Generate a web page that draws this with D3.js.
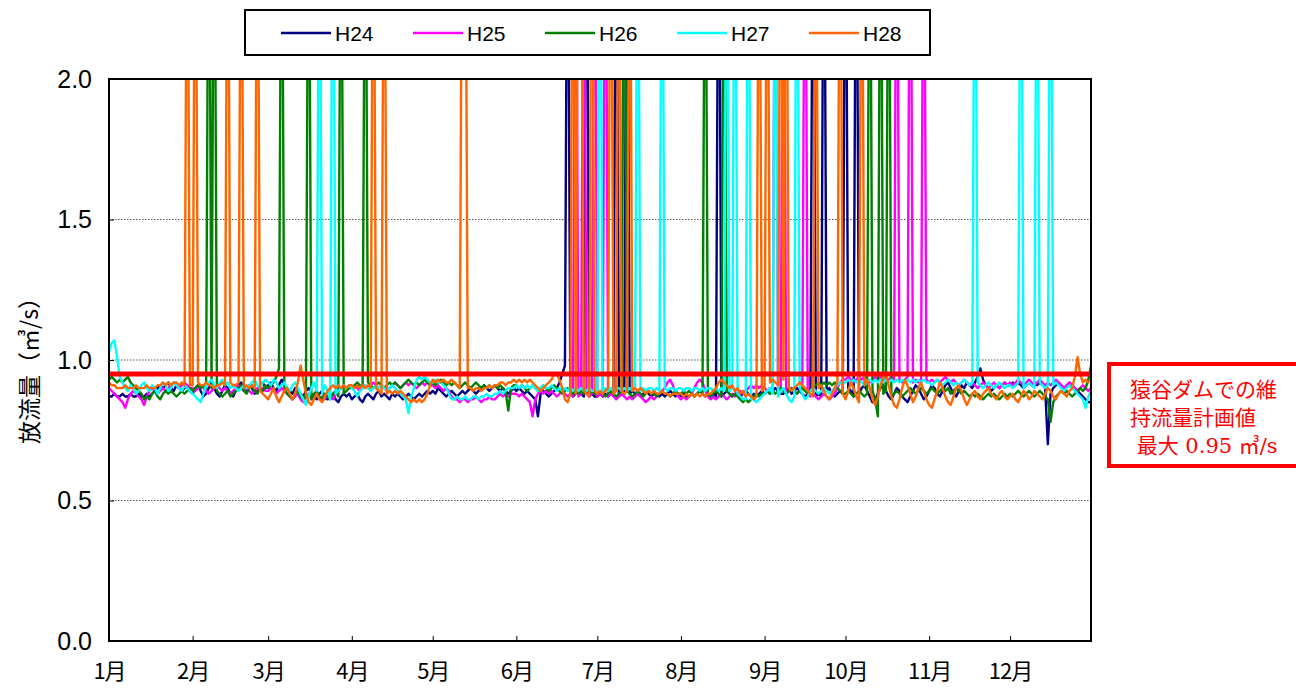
<!DOCTYPE html>
<html><head><meta charset="utf-8">
<script src="https://cdn.jsdelivr.net/npm/d3@7"></script>
<style>body{margin:0;background:#fff;} svg{display:block}</style>
</head><body><svg id="chart" width="1296" height="689"></svg>
<script>
// ---------- data ----------
const monthLabels = ["1月","2月","3月","4月","5月","6月","7月","8月","9月","10月","11月","12月"];
const monthStartDays = [0,31,59,90,120,151,181,212,243,273,304,334];
const yTicks = [0, 0.5, 1.0, 1.5, 2.0];
const seriesNames = ["H24","H25","H26","H27","H28"];
const seriesColors = ["#000080","#ff00ff","#008000","#00ffff","#ff6600"];
const planValue = 0.95;          // 維持流量計画値 (m3/s)
const spikeValue = 3.0;          // flood-release days, off the top of the axis

// daily discharge (m3/s), Jan 1 .. Dec 31 (365 days)
const h24 = [
 .87,.87,.88,.87,.87,.88,.87,.87,.88,.87, .87,.88,.87,.87,.88,.87,.88,.89,.90,.91, .90,.91,.92,.90,.89,.91,.90,.89,.90,.91, .89,
 .88,.90,.91,.89,.87,.88,.90,.92,.90,.88, .87,.89,.91,.90,.88,.87,.89,.91,.92,.90, .89,.91,.90,.88,.89,.91,.92,.90,
 .91,.92,.90,.89,.91,.93,.91,.90,.89,.88, .90,.89,.88,.87,.89,.90,.88,.87,.86,.88, .89,.87,.86,.87,.88,.86,.85,.87,.88,.87, .88,
 .86,.87,.88,.86,.85,.87,.88,.87,.86,.88, .89,.87,.88,.87,.86,.88,.87,.88,.87,.86, .87,.88,.87,.86,.87,.88,.87,.88,.89,.88,
 .89,.88,.90,.89,.88,.87,.88,.89,.88,.87, .88,.89,.88,.89,.90,.89,.88,.89,.90,.91, .90,.89,.90,.91,.90,.89,.90,.89,.88,.89, .90,
 .89,.90,.89,.88,.89,.88,.87,.86,.80,.88, .89,.88,.87,.88,.89,.90,.92,.95,.98,.90, .88,.87,.88,.89,.88,.87,.88,.87,.88,.87,
 .87,.88,.87,.88,.87,.88,.89,.88,.87,.88, .88,.87,.88,.89,.88,.88,.87,.88,.89,.88, .87,.88,.88,.87,.88,.87,.88,.89,.88,.87, .88,
 .87,.88,.87,.87,.88,.87,.88,.89,.88,.87, .88,.87,.88,.87,.88,.87,.88,.89,.88,.87, .88,.88,.87,.88,.89,.88,.87,.88,.87,.88, .89,
 .88,.89,.88,.89,.90,.89,.88,.88,.89,.90, .88,.89,.90,.89,.88,.87,.88,.89,.88,.87, .88,.87,.88,.89,.90,.88,.87,.88,.89,.88,
 .88,.90,.89,.87,.86,.88,.90,.91,.89,.87, .85,.86,.88,.90,.91,.89,.87,.86,.88,.90, .89,.87,.86,.85,.87,.89,.91,.90,.88,.86, .87,
 .89,.91,.90,.88,.87,.89,.91,.92,.90,.88, .87,.89,.91,.90,.92,.91,.90,.92,.94,.97, .93,.91,.90,.89,.90,.91,.90,.91,.92,.91,
 .91,.92,.91,.92,.91,.90,.91,.92,.91,.92, .91,.92,.91,.90,.70,.88,.90,.91,.92,.91, .90,.91,.92,.91,.90,.89,.88,.87,.86,.85, .85
];
const h25 = [
 .90,.89,.88,.87,.86,.85,.83,.86,.88,.89, .88,.87,.86,.84,.87,.89,.90,.89,.88,.89, .90,.89,.90,.91,.92,.91,.90,.91,.92,.91, .90,
 .90,.89,.90,.91,.90,.89,.88,.89,.90,.91, .90,.89,.90,.89,.88,.89,.90,.91,.90,.89, .90,.89,.88,.89,.90,.89,.90,.89,
 .89,.90,.89,.88,.89,.90,.89,.88,.87,.86, .87,.88,.86,.85,.87,.88,.86,.87,.88,.86, .87,.86,.88,.87,.86,.88,.89,.90,.91,.90, .91,
 .90,.91,.90,.89,.90,.91,.90,.91,.92,.91, .90,.91,.90,.89,.90,.91,.92,.91,.90,.91, .92,.91,.92,.91,.90,.91,.92,.91,.92,.91,
 .91,.90,.91,.90,.89,.90,.89,.87,.86,.86, .85,.86,.86,.85,.86,.86,.87,.86,.85,.86, .86,.87,.86,.86,.87,.88,.87,.88,.87,.88, .88,
 .88,.87,.88,.87,.86,.85,.80,.86,.88,.89, .88,.89,.88,.89,.88,.87,.88,.89,.88,.87, .88,.87,.88,.87,.88,.87,.88,.87,.88,.87,
 .87,.88,.87,.86,.87,.88,.87,.86,.87,.88, .87,.86,.87,.86,.87,.88,.87,.86,.85,.86, .87,.86,.87,.88,.89,.90,.92,.93,.91,.88, .87,
 .86,.87,.86,.87,.88,.90,.92,.93,.92,.89, .87,.86,.87,.86,.87,.88,.87,.86,.87,.88, .87,.88,.89,.88,.89,.90,.91,.90,.91,.90, .91,
 .90,.89,.90,.89,.88,.89,.90,.89,.88,.89, .90,.89,.88,.89,.90,.89,.88,.87,.88,.87, .86,.87,.88,.87,.86,.87,.88,.90,.92,.93,
 .93,.94,.93,.92,.93,.94,.93,.94,.93,.92, .93,.94,.93,.94,.93,.92,.93,.94,.93,.92, .93,.92,.93,.94,.93,.92,.93,.92,.93,.92, .93,
 .92,.93,.92,.93,.92,.93,.94,.93,.92,.93, .92,.91,.92,.93,.92,.91,.92,.91,.90,.91, .92,.91,.90,.91,.92,.91,.90,.91,.92,.91,
 .92,.91,.92,.93,.92,.91,.92,.93,.92,.91, .92,.93,.92,.91,.92,.91,.92,.93,.92,.91, .90,.91,.92,.91,.90,.89,.90,.91,.90,.89, .90
];
const h26 = [
 .93,.94,.93,.92,.93,.92,.93,.94,.92,.91, .90,.89,.88,.86,.87,.86,.88,.89,.87,.86, .88,.89,.88,.89,.88,.87,.88,.89,.88,.89, .90,
 .89,.90,.91,.90,.91,.90,.91,.90,.91,.89, .88,.87,.88,.89,.87,.88,.89,.90,.91,.89, .88,.90,.91,.89,.88,.90,.89,.91,
 .90,.91,.92,.94,.97,.93,.90,.88,.87,.86, .88,.89,.87,.86,.88,.87,.86,.88,.89,.87, .86,.88,.87,.86,.88,.89,.87,.86,.88,.89, .90,
 .90,.91,.92,.91,.90,.91,.92,.91,.90,.91, .92,.91,.90,.91,.92,.91,.92,.91,.90,.91, .92,.93,.92,.91,.92,.91,.92,.93,.92,.91,
 .92,.91,.92,.93,.92,.91,.92,.91,.92,.91, .90,.91,.92,.91,.90,.91,.92,.91,.90,.91, .90,.91,.90,.91,.90,.91,.90,.89,.82,.90, .91,
 .91,.90,.91,.90,.89,.90,.91,.90,.89,.90, .91,.90,.89,.90,.91,.90,.89,.88,.89,.90, .89,.88,.89,.88,.89,.88,.89,.88,.89,.88,
 .88,.89,.88,.87,.88,.89,.88,.87,.88,.89, .88,.89,.88,.87,.88,.89,.88,.87,.88,.89, .88,.88,.87,.88,.89,.88,.88,.87,.88,.89, .88,
 .88,.89,.88,.89,.88,.87,.88,.89,.88,.89, .88,.87,.88,.89,.88,.87,.88,.89,.88,.87, .88,.87,.86,.85,.86,.85,.86,.87,.88,.87, .88,
 .88,.89,.88,.89,.88,.89,.90,.89,.88,.89, .90,.89,.88,.89,.90,.89,.88,.89,.90,.91, .92,.91,.92,.91,.92,.91,.92,.90,.89,.88,
 .88,.89,.88,.87,.88,.89,.88,.87,.88,.88, .89,.86,.80,.87,.88,.89,.88,.87,.88,.89, .88,.87,.88,.89,.90,.89,.88,.89,.90,.89, .88,
 .89,.90,.89,.88,.89,.90,.89,.90,.88,.89, .90,.89,.88,.89,.88,.87,.88,.87,.88,.87, .86,.87,.88,.87,.88,.87,.86,.87,.88,.87,
 .88,.87,.88,.89,.88,.87,.88,.89,.88,.87, .88,.89,.88,.87,.86,.78,.85,.87,.88,.89, .88,.89,.88,.87,.88,.89,.90,.89,.90,.93, .98
];
const h27 = [
 1.03,1.06,1.07,1.01,.94,.92,.90,.89,.91,.90, .88,.89,.91,.92,.90,.89,.91,.90,.88,.90, .92,.91,.89,.90,.92,.91,.90,.89,.91,.90, .89,
 .88,.87,.86,.85,.88,.91,.92,.93,.91,.90, .92,.93,.91,.92,.90,.91,.90,.89,.90,.91, .90,.91,.92,.93,.91,.90,.92,.93,
 .92,.91,.93,.92,.90,.91,.92,.90,.89,.91, .92,.90,.88,.86,.84,.87,.90,.92,.89,.86, .88,.91,.89,.86,.90,.88,.89,.90,.91,.90, .91,
 .90,.89,.87,.89,.90,.91,.90,.89,.90,.91, .90,.91,.90,.89,.90,.91,.90,.89,.88,.87, .86,.81,.87,.90,.93,.94,.93,.94,.93,.92,
 .92,.93,.92,.92,.91,.90,.88,.86,.86,.87, .86,.86,.87,.86,.86,.87,.87,.86,.87,.87, .88,.87,.87,.88,.88,.89,.88,.89,.90,.90, .90,
 .91,.90,.91,.90,.91,.90,.91,.90,.89,.90, .91,.90,.90,.91,.90,.89,.90,.89,.90,.89, .90,.89,.90,.89,.90,.89,.89,.90,.89,.89,
 .89,.90,.89,.90,.89,.90,.89,.90,.90,.89, .90,.89,.90,.89,.90,.90,.89,.90,.89,.90, .90,.89,.90,.89,.90,.90,.89,.90,.90,.89, .90,
 .90,.89,.90,.90,.89,.90,.90,.89,.90,.89, .90,.90,.89,.90,.89,.90,.89,.90,.89,.90, .89,.88,.87,.86,.86,.85,.86,.86,.85,.86, .87,
 .88,.89,.90,.88,.86,.87,.89,.90,.88,.86, .85,.87,.89,.90,.88,.86,.87,.89,.90,.89, .88,.89,.90,.89,.88,.89,.90,.91,.92,.92,
 .92,.93,.92,.93,.92,.93,.92,.91,.92,.93, .92,.93,.92,.93,.92,.93,.92,.93,.92,.93, .92,.93,.92,.93,.92,.93,.92,.93,.92,.93, .92,
 .92,.91,.92,.93,.92,.91,.92,.93,.92,.91, .92,.91,.92,.93,.92,.91,.92,.91,.92,.91, .90,.91,.92,.91,.90,.91,.92,.91,.90,.91,
 .91,.90,.91,.92,.91,.90,.91,.92,.91,.90, .91,.92,.91,.90,.91,.90,.91,.92,.91,.90, .89,.90,.91,.90,.89,.88,.87,.86,.83,.87, .89
];
const h28 = [
 .92,.91,.91,.90,.90,.90,.91,.90,.90,.90, .91,.90,.90,.90,.91,.90,.90,.90,.91,.91, .92,.91,.92,.91,.92,.92,.91,.92,.91,.91, .91,
 .91,.91,.92,.91,.91,.92,.91,.91,.90,.91, .91,.92,.91,.91,.92,.91,.91,.92,.91,.90, .91,.90,.91,.90,.91,.89,.88,.87,
 .86,.88,.90,.87,.85,.87,.89,.90,.88,.86, .88,.92,.98,.93,.88,.85,.84,.86,.88,.86, .85,.87,.89,.90,.91,.90,.91,.90,.91,.90, .91,
 .91,.90,.91,.90,.91,.90,.91,.90,.89,.90, .89,.88,.89,.88,.89,.88,.89,.88,.89,.88, .87,.86,.85,.86,.85,.86,.85,.86,.88,.91,
 .93,.92,.93,.92,.93,.92,.92,.93,.92,.91, .90,.90,.89,.90,.90,.89,.90,.90,.89,.90, .90,.91,.90,.91,.91,.92,.92,.91,.92,.92, .93,
 .92,.93,.92,.93,.92,.93,.92,.91,.90,.89, .90,.91,.92,.93,.95,.95,.93,.90,.86,.85, .88,.89,.88,.87,.88,.89,.88,.87,.88,.89,
 .88,.89,.88,.89,.90,.89,.88,.89,.90,.89, .88,.89,.90,.89,.90,.89,.90,.89,.88,.89, .88,.89,.88,.88,.89,.88,.88,.87,.88,.88, .88,
 .88,.87,.88,.87,.88,.87,.88,.87,.88,.87, .88,.88,.89,.90,.92,.93,.92,.91,.90,.91, .89,.90,.88,.89,.87,.88,.87,.86,.87,.88, .89,
 .90,.91,.92,.93,.92,.91,.92,.93,.91,.90, .89,.90,.91,.92,.91,.90,.89,.88,.87,.89, .90,.91,.89,.87,.86,.88,.90,.92,.90,.88,
 .86,.89,.92,.90,.87,.85,.88,.91,.93,.90, .86,.84,.87,.91,.94,.95,.91,.87,.84,.83, .86,.90,.93,.91,.88,.85,.87,.90,.92,.89, .86,
 .84,.83,.86,.89,.92,.90,.87,.85,.84,.87, .90,.91,.89,.86,.84,.86,.88,.89,.87,.86, .88,.89,.90,.88,.87,.86,.88,.89,.87,.86,
 .87,.88,.86,.85,.87,.89,.88,.86,.87,.89, .88,.87,.86,.88,.90,.89,.87,.86,.88,.89, .88,.87,.89,.90,.94,1.01,.95,.92,.93,.92, .93
];

// days (0 = Jan 1) on which the release ran far above the axis maximum
const h24Spikes = [170,177,188,192,226,261,265,273,277];
const h25Spikes = [173,176,180,184,247,250,258,292,297,302];
const h26Spikes = [37,39,64,74,86,95,191,221,228,282,286,289];
const h27Spikes = [78,83,182,196,205,229,232,237,247,255,321,338,344,349];
const h28Spikes = [29,32,44,49,55,98,102,131,132,172,174,175,179,186,189,193,241,244,249,251,262,271,279];

// ---------- chart ----------
const plot = {left:109, right:1091, top:79, bottom:641};
const svg = d3.select("#chart");

const x = d3.scaleLinear().domain([0, 364]).range([plot.left, plot.right]);
const y = d3.scaleLinear().domain([0, 2]).range([plot.bottom, plot.top]);

const baseSeries = [h24,h25,h26,h27,h28];
const spikeSeries = [h24Spikes,h25Spikes,h26Spikes,h27Spikes,h28Spikes];
const series = seriesNames.map((name,i) => {
  const sp = new Set(spikeSeries[i]);
  return {name, color: seriesColors[i],
    values: baseSeries[i].map((v,d) => sp.has(d) ? spikeValue : v)};
});

svg.append("defs").append("clipPath").attr("id","plotclip")
  .append("rect").attr("x",plot.left).attr("y",plot.top)
  .attr("width",plot.right-plot.left).attr("height",plot.bottom-plot.top);

// gridlines
svg.append("g").selectAll("line").data(yTicks.filter(t => t > 0 && t < 2)).join("line")
  .attr("x1",plot.left).attr("x2",plot.right)
  .attr("y1",d=>y(d)).attr("y2",d=>y(d))
  .attr("stroke","#555").attr("stroke-width",1).attr("stroke-dasharray","1.5,1.5");

// series lines
const line = d3.line().x((d,i)=>x(i)).y(d=>y(d));
svg.append("g").attr("clip-path","url(#plotclip)")
  .selectAll("path").data(series).join("path")
  .attr("d", d=>line(d.values))
  .attr("fill","none").attr("stroke",d=>d.color)
  .attr("stroke-width",2.4).attr("stroke-linejoin","round");

// plan line
svg.append("line")
  .attr("x1",plot.left).attr("x2",plot.right)
  .attr("y1",y(planValue)).attr("y2",y(planValue))
  .attr("stroke","#ff0000").attr("stroke-width",5);

// axes
const xAxis = d3.axisBottom(x).tickValues(monthStartDays)
  .tickFormat((d,i)=>monthLabels[i]).tickSize(-5).tickPadding(22);
const gx = svg.append("g").attr("transform",`translate(0,${plot.bottom})`).call(xAxis);
gx.select(".domain").remove();
gx.selectAll(".tick line").attr("stroke","#000");
gx.selectAll("text").attr("font-family","'Noto Sans CJK JP', sans-serif")
  .attr("font-size",22).attr("fill","#000").attr("letter-spacing","-1");

const yAxis = d3.axisLeft(y).tickValues(yTicks).tickFormat(d3.format(".1f"))
  .tickSize(-5).tickPadding(17);
const gy = svg.append("g").attr("transform",`translate(${plot.left},0)`).call(yAxis);
gy.select(".domain").remove();
gy.selectAll(".tick line").attr("stroke","#000");
gy.selectAll("text").attr("font-family","'Liberation Sans', Arial, sans-serif")
  .attr("font-size",25).attr("fill","#000");

// frame
svg.append("rect").attr("x",plot.left).attr("y",plot.top)
  .attr("width",plot.right-plot.left).attr("height",plot.bottom-plot.top)
  .attr("fill","none").attr("stroke","#000").attr("stroke-width",2);

// y title
svg.append("text")
  .attr("transform",`translate(38,365) rotate(-90)`)
  .attr("text-anchor","middle")
  .attr("font-family","'Noto Sans CJK JP', sans-serif").attr("font-size",23)
  .text("放流量（㎥/s）");

// legend
const lg = svg.append("g");
lg.append("rect").attr("x",245).attr("y",10).attr("width",685).attr("height",45)
  .attr("fill","#fff").attr("stroke","#000").attr("stroke-width",2);
const item = lg.selectAll("g.item").data(series).join("g").attr("class","item")
  .attr("transform",(d,i)=>`translate(${281 + i*132},33)`);
item.append("line").attr("x1",0).attr("x2",50).attr("y1",0).attr("y2",0)
  .attr("stroke",d=>d.color).attr("stroke-width",2.5);
item.append("text").attr("x",54).attr("y",0).attr("dy","0.36em")
  .attr("font-family","'Liberation Sans', Arial, sans-serif").attr("font-size",21)
  .text(d=>d.name);

// annotation
const an = svg.append("g");
an.append("rect").attr("x",1109).attr("y",364).attr("width",200).attr("height",102)
  .attr("fill","#fff").attr("stroke","#ff0000").attr("stroke-width",4);
const annLines = ["猿谷ダムでの維","持流量計画値"," 最大 0.95 ㎥/s"];
an.selectAll("text").data(annLines).join("text")
  .attr("x",1130).attr("y",(d,i)=>397 + i*28)
  .attr("font-family","'DejaVu Serif', 'Noto Sans CJK JP', serif")
  .attr("font-size",21).attr("fill","#ff0000")
  .style("white-space","pre")
  .text(d=>d);
</script></body></html>
